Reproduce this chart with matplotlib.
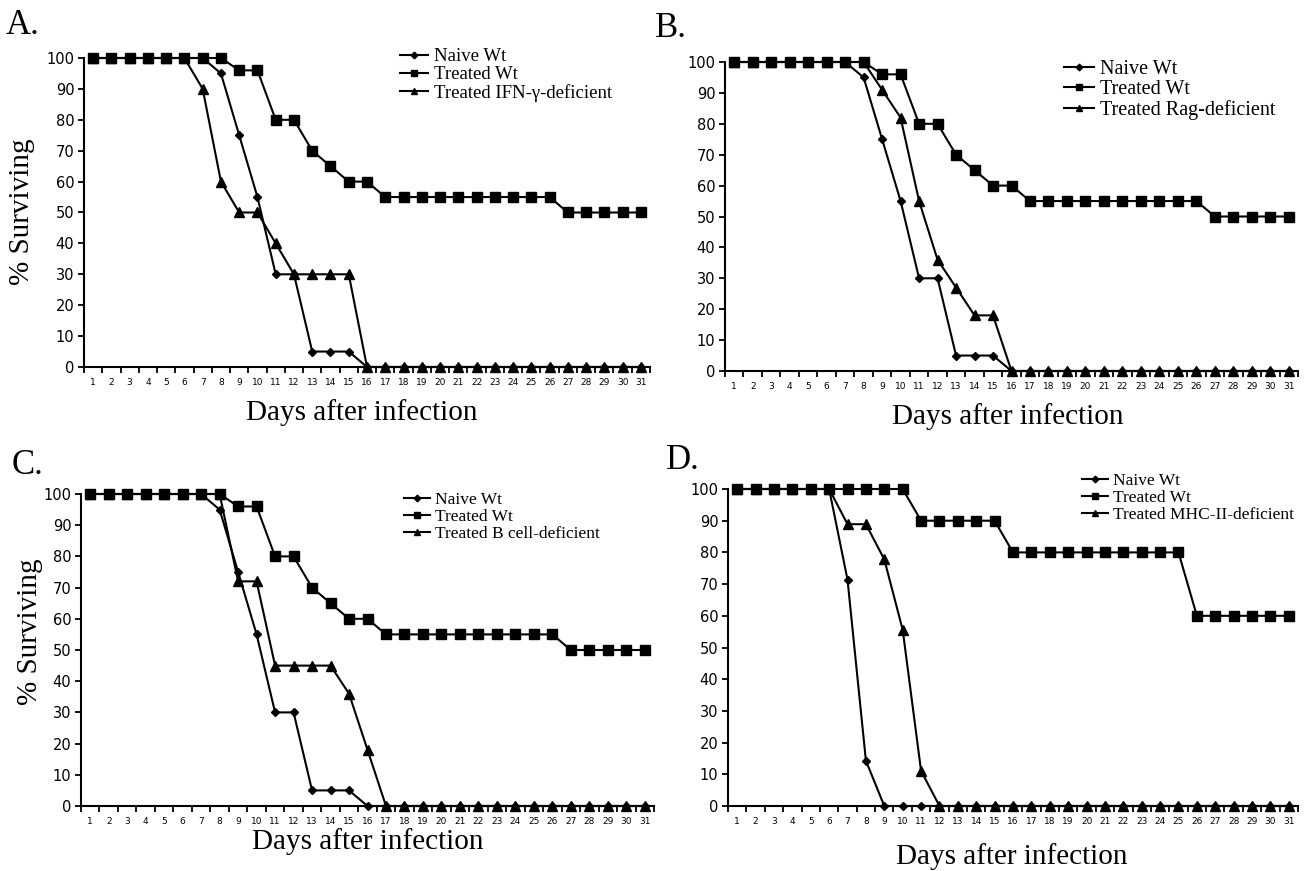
import numpy as np
import matplotlib
matplotlib.use("Agg")
import matplotlib.pyplot as plt

W, H = 1311, 871

days = list(range(1, 32))

# panel A
a_naive = [100] * 7 + [95, 75, 55, 30, 30, 5, 5, 5] + [0] * 16
a_treated = [100] * 8 + [96, 96, 80, 80, 70, 65, 60, 60] + [55] * 10 + [50] * 5
a_ko = [100] * 6 + [90, 60, 50, 50, 40, 30, 30, 30, 30] + [0] * 16

# panel B
b_naive = [100] * 7 + [95, 75, 55, 30, 30, 5, 5, 5] + [0] * 16
b_treated = [100] * 8 + [96, 96, 80, 80, 70, 65, 60, 60] + [55] * 10 + [50] * 5
b_ko = [100] * 8 + [91, 82, 55, 36, 27, 18, 18] + [0] * 16

# panel C
c_naive = [100] * 7 + [95, 75, 55, 30, 30, 5, 5, 5] + [0] * 16
c_treated = [100] * 8 + [96, 96, 80, 80, 70, 65, 60, 60] + [55] * 10 + [50] * 5
c_ko = [100] * 8 + [72, 72, 45, 45, 45, 45, 36, 18] + [0] * 15

# panel D
d_naive = [100] * 6 + [71.4, 14.3] + [0] * 23
d_treated = [100] * 10 + [90] * 5 + [80] * 10 + [60] * 6
d_ko = [100] * 6 + [88.9, 88.9, 77.8, 55.6, 11.1] + [0] * 20

labels_a = ["Naive Wt", "Treated Wt", "Treated IFN-\u03b3-deficient"]
labels_b = ["Naive Wt", "Treated Wt", "Treated Rag-deficient"]
labels_c = ["Naive Wt", "Treated Wt", "Treated B cell-deficient"]
labels_d = ["Naive Wt", "Treated Wt", "Treated MHC-II-deficient"]

SERIF = "Liberation Serif"

fig = plt.figure(figsize=(W / 100, H / 100), dpi=100)


def px_axes(left, right, top, bottom):
    return fig.add_axes([left / W, 1 - bottom / H, (right - left) / W, (bottom - top) / H])


def panel(box, naive, treated, ko, labels, leg_xy, leg_fs):
    ax = px_axes(*box)
    ax.plot(days, naive, color="black", lw=1.5, marker="D", ms=4.5, clip_on=False, label=labels[0], zorder=3)
    ax.plot(days, treated, color="black", lw=1.5, marker="s", ms=6.5, clip_on=False, label=labels[1], zorder=4)
    ax.plot(days, ko, color="black", lw=1.5, marker="^", ms=6.5, clip_on=False, label=labels[2], zorder=5)
    ax.set_xlim(0.5, 31.5)
    ax.set_ylim(0, 100)
    ax.set_yticks(range(0, 101, 10))
    ax.set_xticks(days)
    ax.set_xticks(np.arange(0.5, 32, 1), minor=True)
    ax.tick_params(axis="x", which="major", length=0, labelsize=6.5, pad=8)
    ax.tick_params(axis="x", which="minor", length=4, width=1.3, direction="out")
    ax.tick_params(axis="y", length=4, width=1.3, labelsize=10.5, pad=3)
    for s in ["top", "right"]:
        ax.spines[s].set_visible(False)
    for s in ["left", "bottom"]:
        ax.spines[s].set_linewidth(1.5)
    ax.legend(loc="upper left", bbox_to_anchor=(leg_xy[0] / W, 1 - leg_xy[1] / H),
              bbox_transform=fig.transFigure, frameon=False,
              prop={"family": SERIF, "size": leg_fs}, handlelength=1.5,
              handletextpad=0.3, labelspacing=0.05, borderpad=0, borderaxespad=0,
              markerscale=0.75)
    return ax


panel((84, 650, 58, 367), a_naive, a_treated, a_ko, labels_a, (400, 48), 13.5)
panel((725, 1298, 62, 371), b_naive, b_treated, b_ko, labels_b, (1064, 60), 14.5)
panel((81, 654, 494, 806), c_naive, c_treated, c_ko, labels_c, (404, 492), 12.5)
panel((728, 1298, 489, 806), d_naive, d_treated, d_ko, labels_d, (1082, 473), 12.5)


def ftext(x, y, s, **kw):
    fig.text(x / W, 1 - y / H, s, family=SERIF, **kw)


ftext(6, 34, "A.", fontsize=25, ha="left", va="baseline")
ftext(655, 37, "B.", fontsize=25, ha="left", va="baseline")
ftext(12, 474, "C.", fontsize=25, ha="left", va="baseline")
ftext(666, 469, "D.", fontsize=25, ha="left", va="baseline")

ftext(22, 212, "% Surviving", fontsize=21, rotation=90, ha="center", va="center")
ftext(30, 632, "% Surviving", fontsize=21, rotation=90, ha="center", va="center")

ftext(362, 413, "Days after infection", fontsize=21, ha="center", va="center")
ftext(1008, 417, "Days after infection", fontsize=21, ha="center", va="center")
ftext(368, 842, "Days after infection", fontsize=21, ha="center", va="center")
ftext(1012, 857, "Days after infection", fontsize=21, ha="center", va="center")

plt.savefig("out.png", dpi=100)
